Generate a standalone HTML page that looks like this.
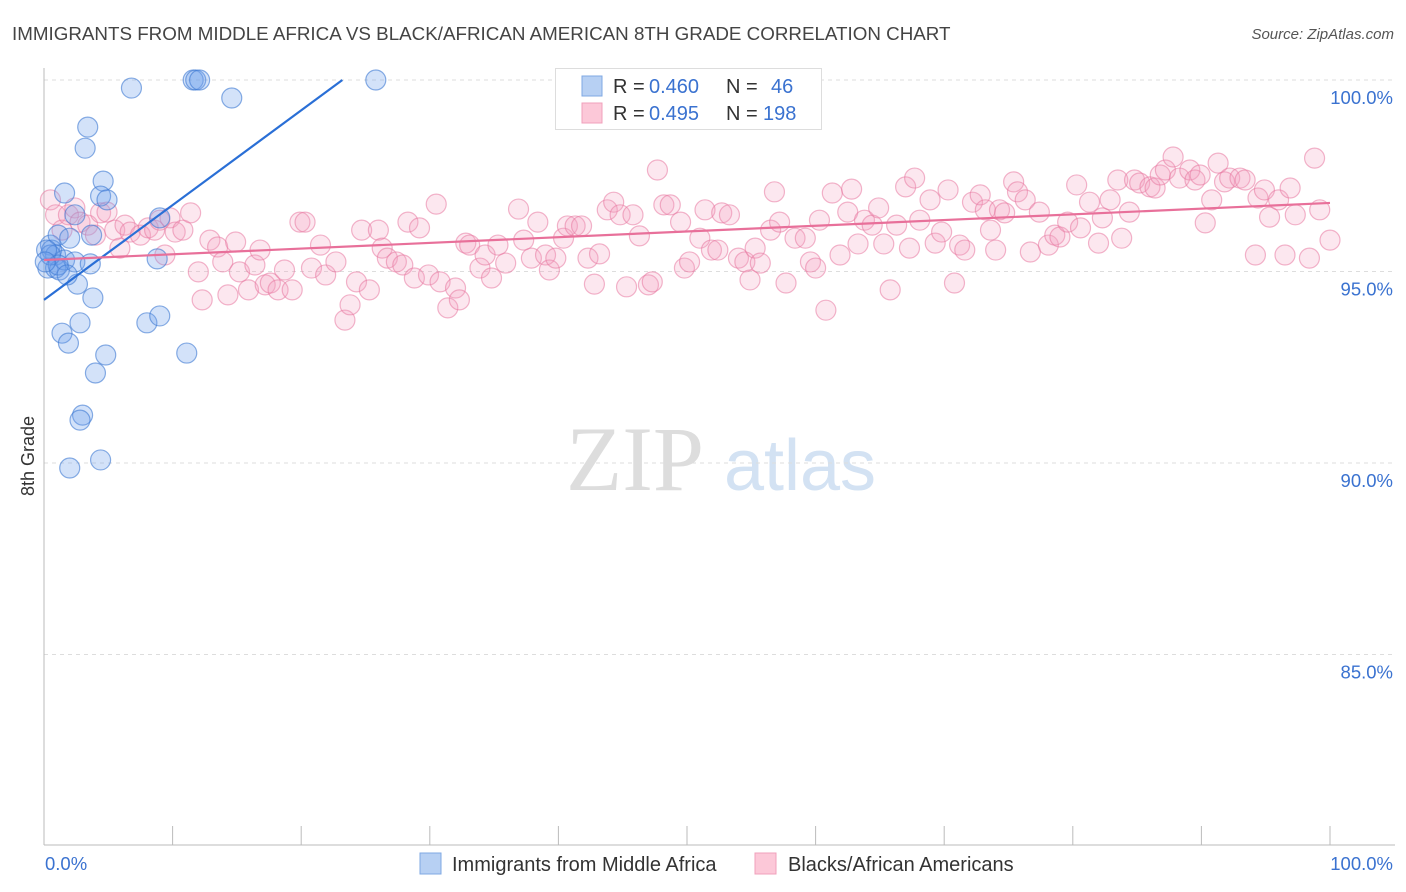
<!DOCTYPE html>
<html><head><meta charset="utf-8">
<style>
body{margin:0;background:#fff;font-family:"Liberation Sans",sans-serif;}
#wrap{position:relative;width:1406px;height:892px;overflow:hidden;}
</style></head>
<body>
<div id="wrap">
<svg id="svg" width="1406" height="892" xmlns="http://www.w3.org/2000/svg">
<text x="12" y="40" font-size="18.8" fill="#444">IMMIGRANTS FROM MIDDLE AFRICA VS BLACK/AFRICAN AMERICAN 8TH GRADE CORRELATION CHART</text>
<text x="1394" y="39" font-size="15" fill="#555" font-style="italic" text-anchor="end">Source: ZipAtlas.com</text>
<text x="34" y="456" font-size="18" fill="#333" text-anchor="middle" transform="rotate(-90 34 456)">8th Grade</text>
<g>
<text x="635" y="490" font-size="92" fill="#ddd" font-family="Liberation Serif" text-anchor="middle">ZIP</text>
<text x="800" y="490" font-size="72" fill="#d3e2f3" text-anchor="middle">atlas</text>
</g>
<g id="grid"></g>
<g id="axes"></g>
<g id="pts"></g>
<g id="lines"></g>
<g>
<rect x="555.5" y="68.5" width="266" height="61" fill="#fff" stroke="#ddd"/>
<rect x="582" y="76" width="20" height="20" fill="#b7d0f3" stroke="#7fa8e3"/>
<rect x="582" y="103" width="20" height="20" fill="#fcc8d8" stroke="#f0a0bb"/>
<text x="613" y="93" font-size="20" fill="#333">R = <tspan x="649" fill="#3a72d0">0.460</tspan><tspan x="726">N = </tspan><tspan x="771" fill="#3a72d0">46</tspan></text>
<text x="613" y="120" font-size="20" fill="#333">R = <tspan x="649" fill="#3a72d0">0.495</tspan><tspan x="726">N = </tspan><tspan x="763" fill="#3a72d0">198</tspan></text>
</g>
<g>
<rect x="420" y="853" width="21" height="21" fill="#b7d0f3" stroke="#7fa8e3"/>
<text x="452" y="871" font-size="20" fill="#333">Immigrants from Middle Africa</text>
<rect x="755" y="853" width="21" height="21" fill="#fcc8d8" stroke="#f0a0bb"/>
<text x="788" y="871" font-size="20" fill="#333">Blacks/African Americans</text>
</g>
</svg>
</div>
<script>
const yTicks=[100,95,90,85];
const yTickLabels=["100.0%","95.0%","90.0%","85.0%"];
const xTicks=[0,10,20,30,40,50,60,70,80,90,100];
const xTickLabels=["0.0%","100.0%"];
const blueX=[0.5,0.6,0.9,0.3,0.9,1.2,1.6,2.4,1.1,2.0,1.6,2.4,3.4,3.2,4.6,4.4,4.9,3.7,3.6,2.6,3.8,1.4,1.9,2.8,4.8,4.0,3.0,2.8,2.0,4.4,6.8,11.6,11.8,12.1,14.6,25.8,8.8,9.0,8.0,9.0,11.1,0.5,0.2,1.1,1.8,0.1];
const blueY=[95.69,95.56,95.43,95.09,95.09,95.04,95.30,95.25,95.95,95.87,97.05,96.48,98.77,98.22,97.36,96.97,96.87,95.95,95.20,94.67,94.31,93.39,93.13,93.66,92.82,92.35,91.25,91.12,89.87,90.08,99.79,100,100,100,99.53,100,95.33,96.40,93.66,93.84,92.87,95.43,95.56,95.17,94.91,95.25];
const pinkX=[0.5,0.9,1.4,1.9,2.4,2.8,3.4,4.0,4.4,4.9,5.5,5.9,6.3,6.7,7.5,8.1,8.6,9.0,9.4,9.8,10.2,10.8,11.4,12.0,12.3,12.9,13.5,13.9,14.3,14.9,15.2,15.9,16.4,16.8,17.2,17.6,18.2,18.7,19.3,19.9,20.3,20.8,21.5,21.9,22.7,23.4,23.8,24.3,24.7,25.3,26.0,26.3,26.7,27.4,27.9,28.3,28.8,29.2,29.9,30.5,30.8,31.4,32.0,32.3,32.8,33.1,33.9,34.3,34.8,35.3,35.9,36.9,37.3,37.9,38.4,39.0,39.3,39.8,40.4,40.7,41.3,41.8,42.3,42.8,43.2,43.8,44.3,44.8,45.3,45.8,46.3,47.0,47.3,47.7,48.2,48.7,49.5,49.8,50.2,51.0,51.4,51.9,52.4,52.7,53.3,54.0,54.5,54.9,55.3,55.7,56.5,56.8,57.2,57.7,58.4,59.2,59.6,60.0,60.3,60.8,61.3,61.9,62.5,62.8,63.3,63.8,64.4,64.9,65.3,65.8,66.3,67.0,67.3,67.7,68.1,68.9,69.3,69.8,70.3,70.8,71.2,71.6,72.2,72.8,73.2,73.6,74.0,74.3,74.7,75.4,75.7,76.3,76.7,77.4,78.1,78.6,79.0,79.6,80.3,80.6,81.3,82.0,82.3,82.9,83.5,83.8,84.4,84.8,85.2,86.0,86.4,86.8,87.2,87.8,88.3,89.1,89.5,89.9,90.3,90.8,91.3,91.8,92.2,93.0,93.4,94.2,94.4,94.9,95.3,96.0,96.5,96.9,97.3,98.4,98.8,99.2,100];
const pinkY=[96.87,96.48,96.08,96.48,96.66,96.29,96.21,95.95,96.53,96.55,96.08,95.61,96.21,96.03,95.95,96.14,96.08,96.34,95.43,96.40,96.03,96.08,96.53,94.99,94.26,95.82,95.64,95.25,94.39,95.77,94.99,94.52,95.17,95.56,94.65,94.70,94.52,95.04,94.52,96.29,96.29,95.09,95.69,94.91,95.25,93.73,94.13,94.73,96.08,94.52,96.08,95.61,95.35,95.25,95.17,96.29,94.83,96.14,94.91,96.76,94.73,94.05,94.57,94.26,95.74,95.69,95.09,95.43,94.83,95.69,95.22,96.63,95.82,95.35,96.29,95.43,95.04,95.35,95.87,96.19,96.19,96.19,95.35,94.67,95.46,96.61,96.81,96.48,94.60,96.48,95.93,94.65,94.73,97.65,96.74,96.74,96.29,95.09,95.25,95.87,96.61,95.56,95.56,96.53,96.48,95.35,95.25,94.78,95.61,95.22,96.08,97.08,96.29,94.70,95.87,95.87,95.25,95.09,96.34,93.99,97.05,95.43,96.55,97.15,95.72,96.34,96.21,96.66,95.72,94.52,96.21,97.21,95.61,97.44,96.34,96.87,95.74,96.03,97.13,94.70,95.69,95.56,96.81,97.00,96.61,96.08,95.56,96.61,96.53,97.34,97.08,96.87,95.51,96.55,95.69,95.95,95.90,96.29,97.26,96.14,96.81,95.74,96.40,96.87,97.39,95.87,96.55,97.39,97.31,97.21,97.18,97.52,97.65,97.99,97.44,97.65,97.39,97.52,96.27,96.87,97.83,97.34,97.44,97.44,97.39,95.43,96.92,97.13,96.42,96.87,95.43,97.18,96.48,95.35,97.96,96.61,95.82];
const blueLineX=[0,23.2];
const blueLineY=[94.26,100];
const pinkLineX=[0,100];
const pinkLineY=[95.30,96.79];

const X0=44,X1=1330,Y100=80,PXPER=38.3;
const sx=v=>X0+(X1-X0)*v/100;
const sy=v=>Y100+(100-v)*PXPER;
const NS="http://www.w3.org/2000/svg";
function mk(tag,attrs,parent){const e=document.createElementNS(NS,tag);for(const k in attrs)e.setAttribute(k,attrs[k]);parent.appendChild(e);return e;}
const grid=document.getElementById('grid'),axes=document.getElementById('axes'),pts=document.getElementById('pts'),lines=document.getElementById('lines');
yTicks.forEach((t,i)=>{
  const g=mk('line',{x1:X0,x2:1395,y1:sy(t),y2:sy(t),stroke:'#ddd','stroke-dasharray':'4,4'},grid);
  
  
  const tx=mk('text',{x:1393,y:sy(t)+24,'font-size':18.5,fill:'#3a72d0','text-anchor':'end'},axes);
  tx.textContent=yTickLabels[i];
  
  
});
const ax=mk('line',{x1:X0,x2:X0,y1:68,y2:845,stroke:'#bbb'},axes);


const bx=mk('line',{x1:X0,x2:1395,y1:845,y2:845,stroke:'#bbb'},axes);


xTicks.forEach(t=>{
  const l=mk('line',{x1:sx(t),x2:sx(t),y1:826,y2:845,stroke:'#bbb'},axes);
  
  
});
const xl0=mk('text',{x:45,y:870,'font-size':18.5,fill:'#3a72d0'},axes);
xl0.textContent=xTickLabels[0];


const xl1=mk('text',{x:1393,y:870,'font-size':18.5,fill:'#3a72d0','text-anchor':'end'},axes);
xl1.textContent=xTickLabels[1];


pinkX.forEach((v,i)=>{
  const c=mk('circle',{cx:sx(v),cy:sy(pinkY[i]),r:10,fill:'rgba(245,160,190,0.25)',stroke:'rgba(232,120,160,0.55)','stroke-width':1.2},pts);
  
  
});
blueX.forEach((v,i)=>{
  const c=mk('circle',{cx:sx(v),cy:sy(blueY[i]),r:10,fill:'rgba(110,160,235,0.3)',stroke:'rgba(60,120,210,0.6)','stroke-width':1.2},pts);
  
  
});
const bl=mk('line',{x1:sx(blueLineX[0]),y1:sy(blueLineY[0]),x2:sx(blueLineX[1]),y2:sy(blueLineY[1]),stroke:'#2a6fd6','stroke-width':2.2},lines);


const pl=mk('line',{x1:sx(pinkLineX[0]),y1:sy(pinkLineY[0]),x2:sx(pinkLineX[1]),y2:sy(pinkLineY[1]),stroke:'#e8709a','stroke-width':2.2},lines);


</script>
</body></html>
